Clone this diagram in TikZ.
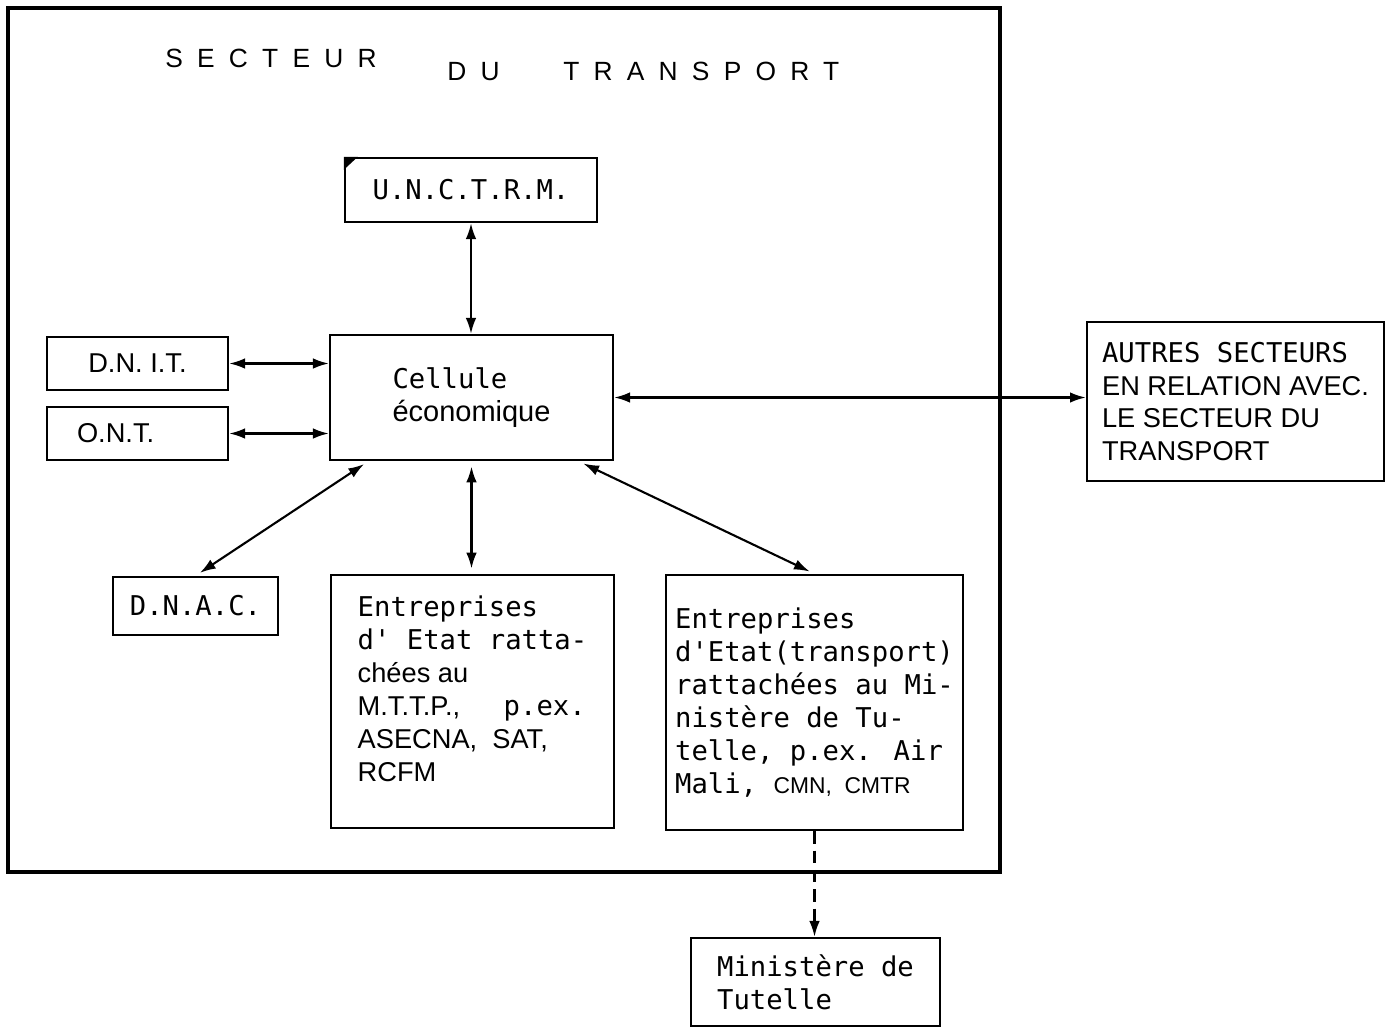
\documentclass[tikz,border=0pt]{standalone}
\usepackage{fontspec}
\setmainfont{Liberation Sans}
\newfontfamily\monofont{DejaVu Sans Mono}
\usetikzlibrary{arrows.meta, positioning, calc}
\tikzset{
  box/.style       = {draw, line width=1.4pt, align=left, inner sep=0pt,
                      font=\fontsize{15.5}{18.7}\selectfont},
  mbox/.style      = {box, font=\monofont\fontsize{15.5}{18.7}\selectfont},
  frame/.style     = {draw, line width=2pt},
  biarrow/.style   = {{Latex[length=9pt,width=6pt]}-{Latex[length=9pt,width=6pt]},
                      line width=1.2pt},
  dasharrow/.style = {-{Latex[length=9pt,width=6pt]}, line width=1.2pt,
                      dash pattern=on 7pt off 4pt},
  gap/.style       = {shorten <=3pt, shorten >=3pt},
  title/.style     = {font=\fontsize{15}{18}\selectfont\addfontfeature{LetterSpace=54},
                      inner sep=0pt, anchor=base west},
}

\begin{document}
\begin{tikzpicture}[x=0.02cm, y=-0.02cm]
  \useasboundingbox (0,0) rectangle (1391,1028);
  % sector frame and its title
  \draw[frame] (8,8) rectangle (1000,872);
  \node[title] (tsect) at (165,67) {SECTEUR};
  \node[title] (tdu)   at (447,80) {DU};
  \node[title] (ttran) at (563,80) {TRANSPORT};
  % boxes
  \node[mbox, minimum width=5.04cm, minimum height=1.28cm] (unctrm) at (471,190)
    {U.N.C.T.R.M.};
  \fill (unctrm.north west) -- ++(14,0) -- ++(-14,13) -- cycle;
  \node[box, minimum width=5.66cm, minimum height=2.5cm] (cell) at (471.5,397.5)
    {{\monofont Cellule}\\\fontsize{16.5}{18.7}\selectfont économique};
  \node[box, minimum width=3.62cm, minimum height=1.06cm] (dnit) at (137.5,363.5) {D.N. I.T.};
  \node[box, minimum width=3.62cm, minimum height=1.06cm, text width=2.42cm,
        inner xsep=0.6cm] (ont) at (137.5,433.5) {O.N.T.};
  \node[mbox, minimum width=3.3cm, minimum height=1.16cm] (dnac) at (195.5,606)
    {D.N.A.C.};
  \node[box, minimum width=5.66cm, minimum height=5.06cm] (ent1) at (472.5,701.5)
    {{\monofont Entreprises}\\{\monofont d' Etat ratta-}\\chées au\\
     M.T.T.P.,\hspace{1.6em}{\monofont p.ex.}\\ASECNA,\ \ SAT,\\RCFM\\[-4pt]~};
  \node[mbox, minimum width=5.94cm, minimum height=5.1cm] (ent2) at (814.5,702.5)
    {Entreprises\\d'Etat(transport)\\rattachées au Mi-\\nistère de Tu-\\
     telle, p.ex. Air\\Mali, {\rmfamily\fontsize{13}{18.7}\selectfont CMN,\ \ CMTR}};
  \node[box, minimum width=5.94cm, minimum height=3.18cm] (autres) at (1235.5,401.5)
    {{\monofont AUTRES SECTEURS}\\EN RELATION AVEC.\\LE SECTEUR DU\\TRANSPORT};
  \node[mbox, minimum width=4.98cm, minimum height=1.76cm] (mint) at (815.5,982)
    {Ministère de\\Tutelle};
  % links
  \draw[biarrow] (unctrm.south) -- (unctrm.south |- cell.north);
  \draw[biarrow] (dnit.east) -- (dnit.east -| cell.west);
  \draw[biarrow] (ont.east) -- (ont.east -| cell.west);
  \draw[biarrow] (cell.east) -- (cell.east -| autres.west);
  \draw[biarrow, gap] ($(cell.south)+(-103,0)$) -- (dnac.north);
  \draw[biarrow, gap] (cell.south) -- (cell.south |- ent1.north);
  \draw[biarrow, gap] ($(cell.south)+(107,0)$) -- (ent2.north);
  \draw[dasharrow] (ent2.south) -- (ent2.south |- mint.north);
\end{tikzpicture}
\end{document}
